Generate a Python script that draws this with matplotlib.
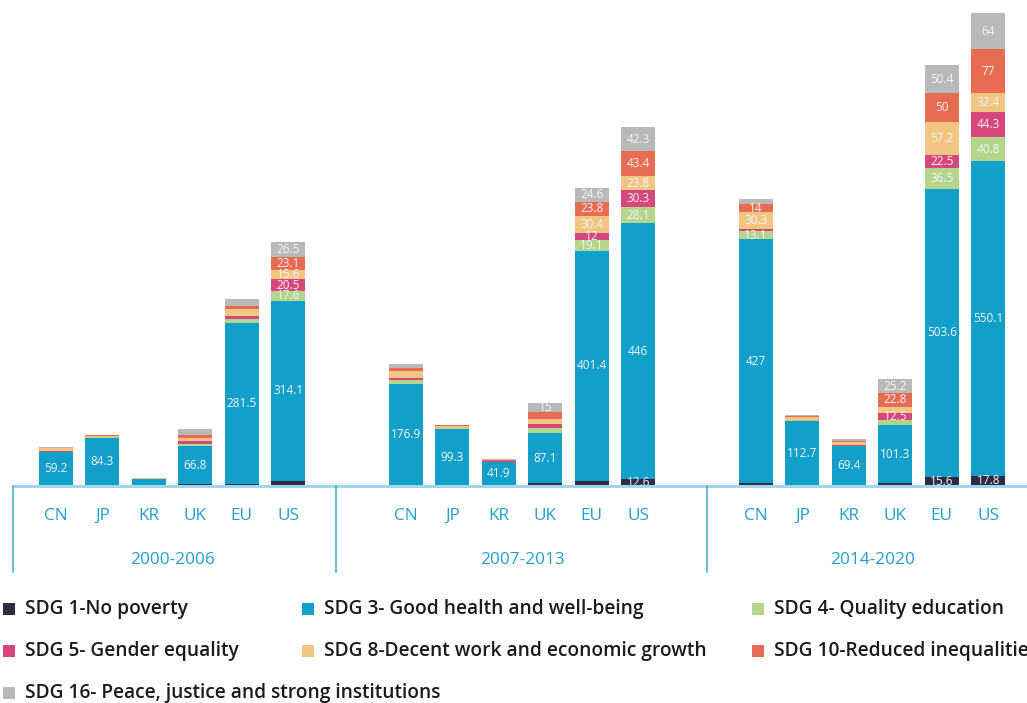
import matplotlib
matplotlib.use("Agg")
import matplotlib.pyplot as plt
from matplotlib.patches import Rectangle
import numpy as np

periods = ["2000-2006", "2007-2013", "2014-2020"]
countries = ["CN", "JP", "KR", "UK", "EU", "US"]
series_names = [
    "SDG 1-No poverty",
    "SDG 3- Good health and well-being",
    "SDG 4- Quality education",
    "SDG 5- Gender equality",
    "SDG 8-Decent work and economic growth",
    "SDG 10-Reduced inequalities",
    "SDG 16- Peace, justice and strong institutions",
]
colors = ["#2e2b45", "#129fca", "#b3d58c", "#d6477c", "#f0c682", "#e86b53", "#b9b9b9"]

# values per bar (period-major, then country order CN JP KR UK EU US)
sdg1 = [0.5, 0.3, 0.2, 3.0, 3.0, 9.0,
        1.5, 0.5, 0.3, 4.7, 9.3, 12.6,
        4.5, 0.5, 0.3, 4.5, 15.6, 17.8]
sdg3 = [59.2, 84.3, 11.9, 66.8, 281.5, 314.1,
        176.9, 99.3, 41.9, 87.1, 401.4, 446,
        427, 112.7, 69.4, 101.3, 503.6, 550.1]
sdg4 = [0.5, 0.3, 0.3, 4.0, 7.5, 17.6,
        7.5, 1.5, 0.5, 9.5, 19.1, 28.1,
        13.1, 1.5, 1.0, 10.0, 36.5, 40.8]
sdg5 = [0.5, 0.3, 0.3, 4.0, 4.5, 20.5,
        2.5, 0.5, 0.3, 6.4, 12, 30.3,
        3.5, 1.0, 1.0, 12.5, 22.5, 44.3]
sdg8 = [5.0, 2.0, 0.8, 6.5, 11.8, 15.6,
        11.8, 3.0, 1.5, 10.0, 30.4, 23.8,
        30.3, 4.0, 4.5, 10.5, 57.2, 32.4]
sdg10 = [1.5, 1.2, 0.8, 5.5, 6.4, 23.1,
         6.0, 1.5, 1.5, 11.9, 23.8, 43.4,
         14, 2.5, 2.0, 22.8, 50, 77]
sdg16 = [0.5, 0.5, 0.3, 9.5, 11.0, 26.5,
         6.0, 1.0, 0.8, 15, 24.6, 42.3,
         8.5, 1.5, 3.5, 25.2, 50.4, 64]
series = [sdg1, sdg3, sdg4, sdg5, sdg8, sdg10, sdg16]

FONT = ["Open Sans", "DejaVu Sans"]

W, H = 1027, 703
fig = plt.figure(figsize=(W / 100, H / 100), dpi=100)
ax_left, ax_base = 12, 486
ax = fig.add_axes([ax_left / W, 1 - ax_base / H, 1 - ax_left / W, ax_base / H])

group_gap = 7.535
xs = []
for g in range(len(periods)):
    for i in range(len(countries)):
        xs.append(g * group_gap + i)
xs = np.array(xs)
bar_w = 0.73

bottom = np.zeros(len(xs))
for vals, col in zip(series, colors):
    v = np.array(vals, dtype=float)
    ax.bar(xs, v, bottom=bottom, width=bar_w, color=col, edgecolor="none", zorder=2)
    for x, b, val in zip(xs, bottom, v):
        if val >= 12:
            ax.text(x, b + val / 2, f"{val:g}", ha="center", va="center",
                    fontsize=8.5, color="#f4f4f4", family=FONT, zorder=3)
    bottom += v

px_per_unit = 0.5727
ymax = ax_base / px_per_unit
ax.set_ylim(0, ymax)
xmin = -0.947
xmax = xmin + (W - ax_left) / 46.45
ax.set_xlim(xmin, xmax)
ax.axis("off")

# baseline
ax.plot([xmin, xmax], [0, 0], color="#9fd6ec", lw=2.2, zorder=4, clip_on=False,
        solid_capstyle="butt")

# separators
sep_bottom = -(572 - ax_base) / px_per_unit
for sx in [xmin + 0.02, 6.03, 14.02]:
    ax.plot([sx, sx], [0, sep_bottom], color="#3aaad6", lw=1.1, clip_on=False, zorder=4)

label_col = "#21a0d2"
cat_y = -(516 - ax_base) / px_per_unit
grp_y = -(560 - ax_base) / px_per_unit
for x, c in zip(xs, countries * len(periods)):
    ax.text(x, cat_y, c, ha="center", va="center", fontsize=12.4, color=label_col,
            family=FONT, clip_on=False)
for g, p in enumerate(periods):
    cx = g * group_gap + (len(countries) - 1) / 2
    ax.text(cx, grp_y, p, ha="center", va="center", fontsize=12.4, color=label_col,
            family=FONT, clip_on=False)

# legend (row-major placement)
col_x = [3, 302, 752]
row_y = [609, 651, 693]
sq = 12
for k, (name, col) in enumerate(zip(series_names, colors)):
    r, c = divmod(k, 3)
    mx, my = col_x[c], row_y[r]
    fig.patches.append(Rectangle((mx / W, 1 - (my + sq / 2) / H), sq / W, sq / H,
                                 transform=fig.transFigure, facecolor=col,
                                 edgecolor="none"))
    fig.text((mx + 22) / W, 1 - my / H, name, ha="left", va="center",
             fontsize=13.8, fontweight="semibold", color="#1b1b1b", family=FONT)

fig.savefig("out.png", dpi=100)
